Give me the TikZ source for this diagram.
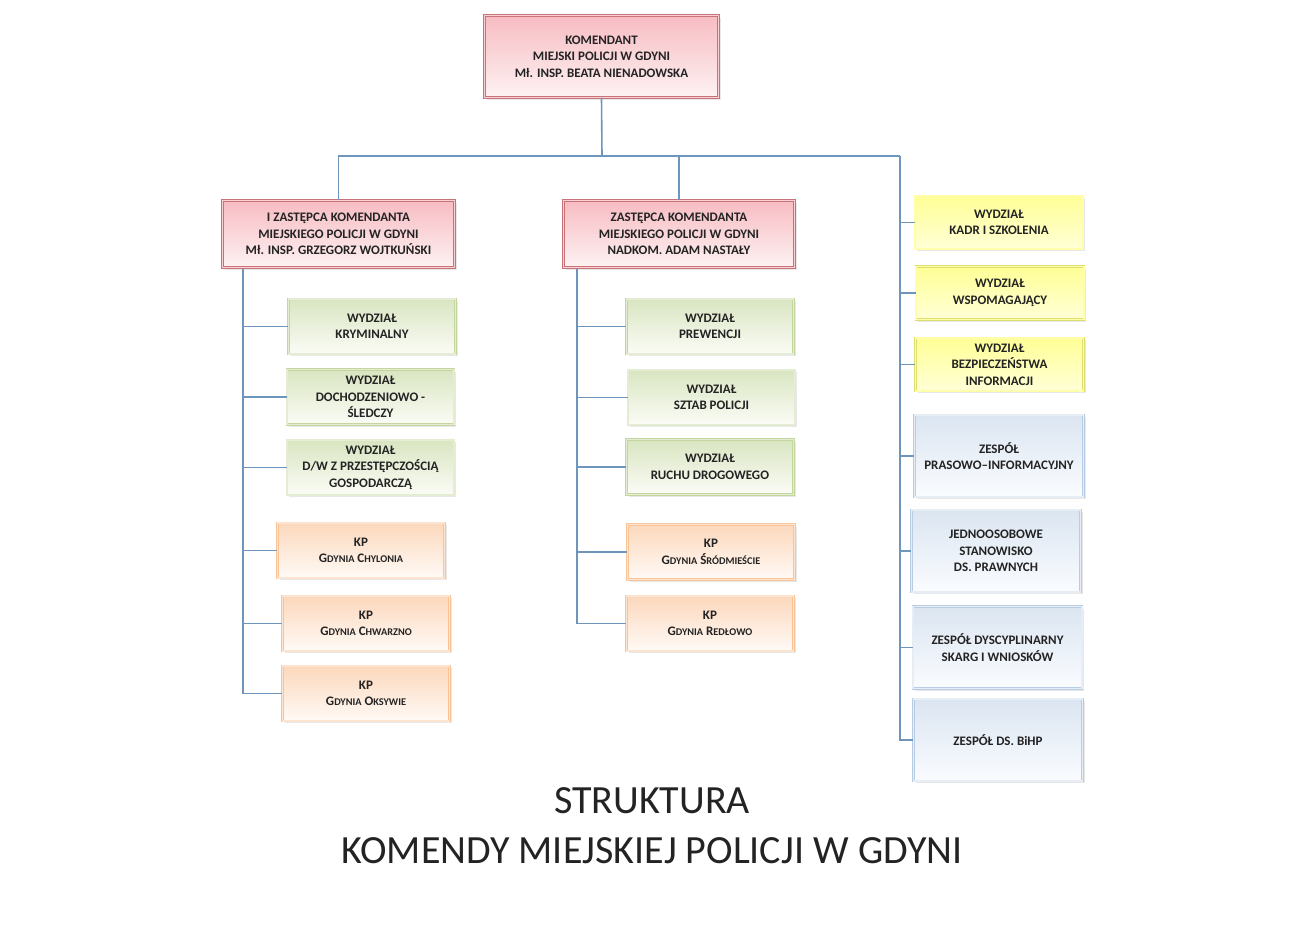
\documentclass[tikz,border=0pt]{standalone}
\usepackage{fontspec}
\setmainfont{Carlito}
\usetikzlibrary{positioning,shadows}

\definecolor{linia}{RGB}{110,150,188}
\definecolor{tekst}{RGB}{35,35,35}
\definecolor{redB}{RGB}{200,115,122}
\definecolor{redT}{RGB}{247,188,194}
\definecolor{redD}{RGB}{253,242,243}
\definecolor{grnB}{RGB}{196,214,158}
\definecolor{grnT}{RGB}{217,229,193}
\definecolor{grnD}{RGB}{251,252,246}
\definecolor{orgB}{RGB}{248,196,152}
\definecolor{orgT}{RGB}{252,216,188}
\definecolor{orgD}{RGB}{255,250,246}
\definecolor{ylwB}{RGB}{222,222,110}
\definecolor{ylwT}{RGB}{255,255,150}
\definecolor{ylwD}{RGB}{255,255,214}
\definecolor{bluB}{RGB}{184,204,228}
\definecolor{bluT}{RGB}{219,229,241}
\definecolor{bluD}{RGB}{250,252,255}

\newcommand\kpm[2]{#1{\fontsize{10.3}{12}\selectfont #2}}

\tikzset{
    box/.style={rectangle, align=center, text=tekst,
        font=\bfseries\fontsize{13}{16.5}\selectfont,
        line width=0.5pt, double distance=1.6pt,
        drop shadow={shadow xshift=2pt, shadow yshift=-2pt, opacity=0.18}},
    czerwony/.style={box, draw=redB, double=redT!70!white, top color=redT, bottom color=redD},
    zielony/.style={box, draw=grnB, double=grnT!70!white, top color=grnT, bottom color=grnD,
        minimum width=167pt, minimum height=55pt},
    pomarancz/.style={box, draw=orgB, double=orgT!70!white, top color=orgT, bottom color=orgD,
        minimum width=167pt, minimum height=55pt},
    zolty/.style={box, draw=ylwB, double=ylwT!80!white, top color=ylwT, bottom color=ylwD,
        minimum width=168pt, minimum height=53pt},
    niebieski/.style={box, draw=bluB, double=bluT!70!white, top color=bluT, bottom color=bluD,
        minimum width=169pt, minimum height=82pt},
    polacz/.style={draw=linia, line width=1.6pt},
    tytul/.style={text=tekst, font=\fontsize{40}{46}\selectfont}
}

\begin{document}
\begin{tikzpicture}[x=1pt, y=-1pt]
    \useasboundingbox[fill=white] (0,0) rectangle (1307,932);

    % kierownictwo
    \node[czerwony, minimum width=234pt, minimum height=82pt] (kmp) at (601.5,56.5)
        {KOMENDANT\\MIEJSKI POLICJI W GDYNI\\Mł. INSP. BEATA NIENADOWSKA};
    \node[czerwony, minimum width=232pt, minimum height=67pt] (zk1) at (338.5,234)
        {I ZASTĘPCA KOMENDANTA\\MIEJSKIEGO POLICJI W GDYNI\\Mł. INSP. GRZEGORZ WOJTKUŃSKI};
    \node[czerwony, minimum width=231pt, minimum height=67pt] (zk2) at (679,234)
        {ZASTĘPCA KOMENDANTA\\MIEJSKIEGO POLICJI W GDYNI\\NADKOM. ADAM NASTAŁY};

    % pion I zastepcy
    \node[zielony] (kryminalny) at (372,326.5) {WYDZIAŁ\\KRYMINALNY};
    \node[zielony] (dochodzeniowy) at (370.5,397) {WYDZIAŁ\\DOCHODZENIOWO -\\ŚLEDCZY};
    \node[zielony] (gospodarczy) at (370.5,467.5) {WYDZIAŁ\\D/W Z PRZESTĘPCZOŚCIĄ\\GOSPODARCZĄ};
    \node[pomarancz] (chylonia) at (361,550.5) {KP\\\kpm{G}{DYNIA} \kpm{C}{HYLONIA}};
    \node[pomarancz] (chwarzno) at (366,623.5) {KP\\\kpm{G}{DYNIA} \kpm{C}{HWARZNO}};
    \node[pomarancz] (oksywie) at (366,693.5) {KP\\\kpm{G}{DYNIA} \kpm{O}{KSYWIE}};

    % pion zastepcy
    \node[zielony] (prewencja) at (710,326.5) {WYDZIAŁ\\PREWENCJI};
    \node[zielony] (sztab) at (711.5,397.5) {WYDZIAŁ\\SZTAB POLICJI};
    \node[zielony] (ruch) at (710,467) {WYDZIAŁ\\RUCHU DROGOWEGO};
    \node[pomarancz] (srodmiescie) at (711,552) {KP\\\kpm{G}{DYNIA} \kpm{Ś}{RÓDMIEŚCIE}};
    \node[pomarancz] (redlowo) at (710,623.5) {KP\\\kpm{G}{DYNIA} \kpm{R}{EDŁOWO}};

    % pion komendanta
    \node[zolty] (kadry) at (999,222.5) {WYDZIAŁ\\KADR I SZKOLENIA};
    \node[zolty] (wspomagajacy) at (1000,293) {WYDZIAŁ\\WSPOMAGAJĄCY};
    \node[zolty] (bezpieczenstwo) at (999.5,364.5) {WYDZIAŁ\\BEZPIECZEŃSTWA\\INFORMACJI};
    \node[niebieski] (prasowy) at (999,456) {ZESPÓŁ\\PRASOWO–INFORMACYJNY};
    \node[niebieski] (prawny) at (996,551) {JEDNOOSOBOWE\\STANOWISKO\\DS. PRAWNYCH};
    \node[niebieski] (dyscyplinarny) at (997.5,647.5) {ZESPÓŁ DYSCYPLINARNY\\SKARG I WNIOSKÓW};
    \node[niebieski] (bihp) at (998,740) {ZESPÓŁ DS. BiHP};

    \node[tytul] (tytul1) at (652,801) {STRUKTURA};
    \node[tytul] (tytul2) at (652,851) {KOMENDY MIEJSKIEJ POLICJI W GDYNI};

    % polaczenia
    \coordinate (szyna) at (602,156);
    \coordinate (prawa) at (900,156);
    \coordinate (lewa) at (243,269);
    \coordinate (srodek) at (577,269);

    \draw[polacz] (kmp.south) -- (szyna);
    \draw[polacz] (zk1.north) |- (prawa);
    \draw[polacz] (zk2.north) -- (zk2.north |- szyna);

    \draw[polacz] (lewa) |- (oksywie.west);
    \draw[polacz] (lewa |- kryminalny.west) -- (kryminalny.west);
    \draw[polacz] (lewa |- dochodzeniowy.west) -- (dochodzeniowy.west);
    \draw[polacz] (lewa |- gospodarczy.west) -- (gospodarczy.west);
    \draw[polacz] (lewa |- chylonia.west) -- (chylonia.west);
    \draw[polacz] (lewa |- chwarzno.west) -- (chwarzno.west);

    \draw[polacz] (srodek) |- (redlowo.west);
    \draw[polacz] (srodek |- prewencja.west) -- (prewencja.west);
    \draw[polacz] (srodek |- sztab.west) -- (sztab.west);
    \draw[polacz] (srodek |- ruch.west) -- (ruch.west);
    \draw[polacz] (srodek |- srodmiescie.west) -- (srodmiescie.west);

    \draw[polacz] (prawa) |- (bihp.west);
    \draw[polacz] (prawa |- kadry.west) -- (kadry.west);
    \draw[polacz] (prawa |- wspomagajacy.west) -- (wspomagajacy.west);
    \draw[polacz] (prawa |- bezpieczenstwo.west) -- (bezpieczenstwo.west);
    \draw[polacz] (prawa |- prasowy.west) -- (prasowy.west);
    \draw[polacz] (prawa |- prawny.west) -- (prawny.west);
    \draw[polacz] (prawa |- dyscyplinarny.west) -- (dyscyplinarny.west);
\end{tikzpicture}
\end{document}
